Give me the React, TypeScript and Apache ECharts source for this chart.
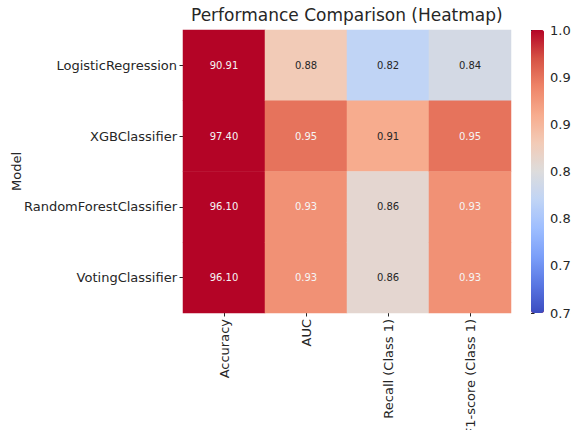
import React, { useEffect, useRef } from "react";
import * as echarts from "echarts";

const models = ["LogisticRegression", "XGBClassifier", "RandomForestClassifier", "VotingClassifier"];
const metrics = ["Accuracy", "AUC", "Recall (Class 1)", "F1-score (Class 1)"];
const accuracy = [90.91, 97.4, 96.1, 96.1];
const auc = [0.88, 0.95, 0.93, 0.93];
const recall = [0.82, 0.91, 0.86, 0.86];
const f1 = [0.84, 0.95, 0.93, 0.93];
const colorbarTicks = [0.7, 0.75, 0.8, 0.85, 0.9, 0.95, 1.0];

const coolwarm = [
  "#3b4cc0", "#5977e3", "#7b9ff9", "#9ebeff", "#c0d4f5", "#dddcdc",
  "#f2cbb7", "#f7ac8e", "#ee8468", "#d65244", "#b40426",
];

const FONT = "DejaVu Sans";
const TXT = "#262626";

export default function App() {
  const ref = useRef<HTMLDivElement>(null);
  useEffect(() => {
    if (!ref.current) return;
    const chart = echarts.init(ref.current, undefined, { renderer: "svg" });
    const columns = [accuracy, auc, recall, f1];
    const data: [number, number, number][] = [];
    columns.forEach((col, xi) => col.forEach((v, yi) => data.push([xi, yi, v])));
    chart.setOption({
      animation: false,
      backgroundColor: "#fff",
      textStyle: { fontFamily: FONT },
      title: {
        text: "Performance Comparison (Heatmap)",
        left: 191,
        top: 6,
        padding: 0,
        textStyle: { fontFamily: FONT, fontSize: 17, fontWeight: "normal", color: TXT },
      },
      grid: [
        { left: 183, width: 328, top: 30, height: 283, outerBoundsMode: "none", containLabel: false },
        { left: 531, width: 13, top: 30, height: 283, outerBoundsMode: "none", containLabel: false },
      ],
      xAxis: [
        {
          type: "category",
          data: metrics,
          gridIndex: 0,
          position: "bottom",
          axisLine: { show: false },
          axisTick: { show: true, alignWithLabel: true, length: 3.5, lineStyle: { color: TXT } },
          axisLabel: {
            rotate: 90, fontSize: 13, color: TXT, fontFamily: FONT, margin: 6,
            hideOverlap: false, interval: 0,
          },
          splitLine: { show: false },
        },
        { type: "value", gridIndex: 1, min: 0, max: 1, show: false },
      ],
      yAxis: [
        {
          type: "category",
          data: models,
          gridIndex: 0,
          inverse: true,
          axisLine: { show: false },
          axisTick: { show: true, alignWithLabel: true, length: 3.5, lineStyle: { color: TXT } },
          axisLabel: { fontSize: 13, color: TXT, fontFamily: FONT, margin: 6, interval: 0 },
          name: "Model",
          nameLocation: "middle",
          nameRotate: 90,
          nameGap: 160,
          nameMoveOverlap: false,
          nameTextStyle: { fontSize: 13, color: TXT, fontFamily: FONT },
        },
        {
          type: "value",
          gridIndex: 1,
          position: "right",
          min: 0.7,
          max: 1.0,
          interval: 0.05,
          axisLine: { show: false },
          axisTick: { show: true, length: 3.5, lineStyle: { color: TXT } },
          axisLabel: { show: false },
          splitLine: { show: false },
        },
      ],
      visualMap: {
        type: "continuous",
        min: 0.7,
        max: 1.0,
        calculable: false,
        seriesIndex: 0,
        orient: "vertical",
        left: 531,
        top: 30,
        padding: 0,
        itemWidth: 13,
        itemHeight: 283,
        inRange: { color: coolwarm },
        outOfRange: { color: "#b40426" },
      },
      series: [
        {
          type: "heatmap",
          xAxisIndex: 0,
          yAxisIndex: 0,
          data,
          label: {
            show: true,
            formatter: (p: any) => {
              const v = p.value[2];
              const s = v.toFixed(2);
              return v >= 0.925 ? `{w|${s}}` : `{d|${s}}`;
            },
            rich: {
              w: { color: "#f5f5f5", fontSize: 10, fontFamily: FONT },
              d: { color: TXT, fontSize: 10, fontFamily: FONT },
            },
          },
          itemStyle: { borderWidth: 0 },
          emphasis: { disabled: true },
        },
      ],
    });
    const cbLabels = colorbarTicks.map((t) => {
      const y = chart.convertToPixel({ yAxisIndex: 1 } as any, t) as unknown as number;
      return {
        type: "text",
        x: 550,
        y,
        silent: true,
        style: {
          text: t.toFixed(2),
          fill: TXT,
          fontSize: 13,
          fontFamily: FONT,
          verticalAlign: "middle",
          align: "left",
        },
      };
    });
    chart.setOption({ graphic: cbLabels });
    return () => chart.dispose();
  }, []);
  return (
    <div
      style={{
        position: "fixed",
        left: 0,
        top: 0,
        width: 571,
        height: 430,
        overflow: "hidden",
        background: "#fff",
      }}
    >
      <div ref={ref} style={{ width: 600, height: 460 }} />
    </div>
  );
}
